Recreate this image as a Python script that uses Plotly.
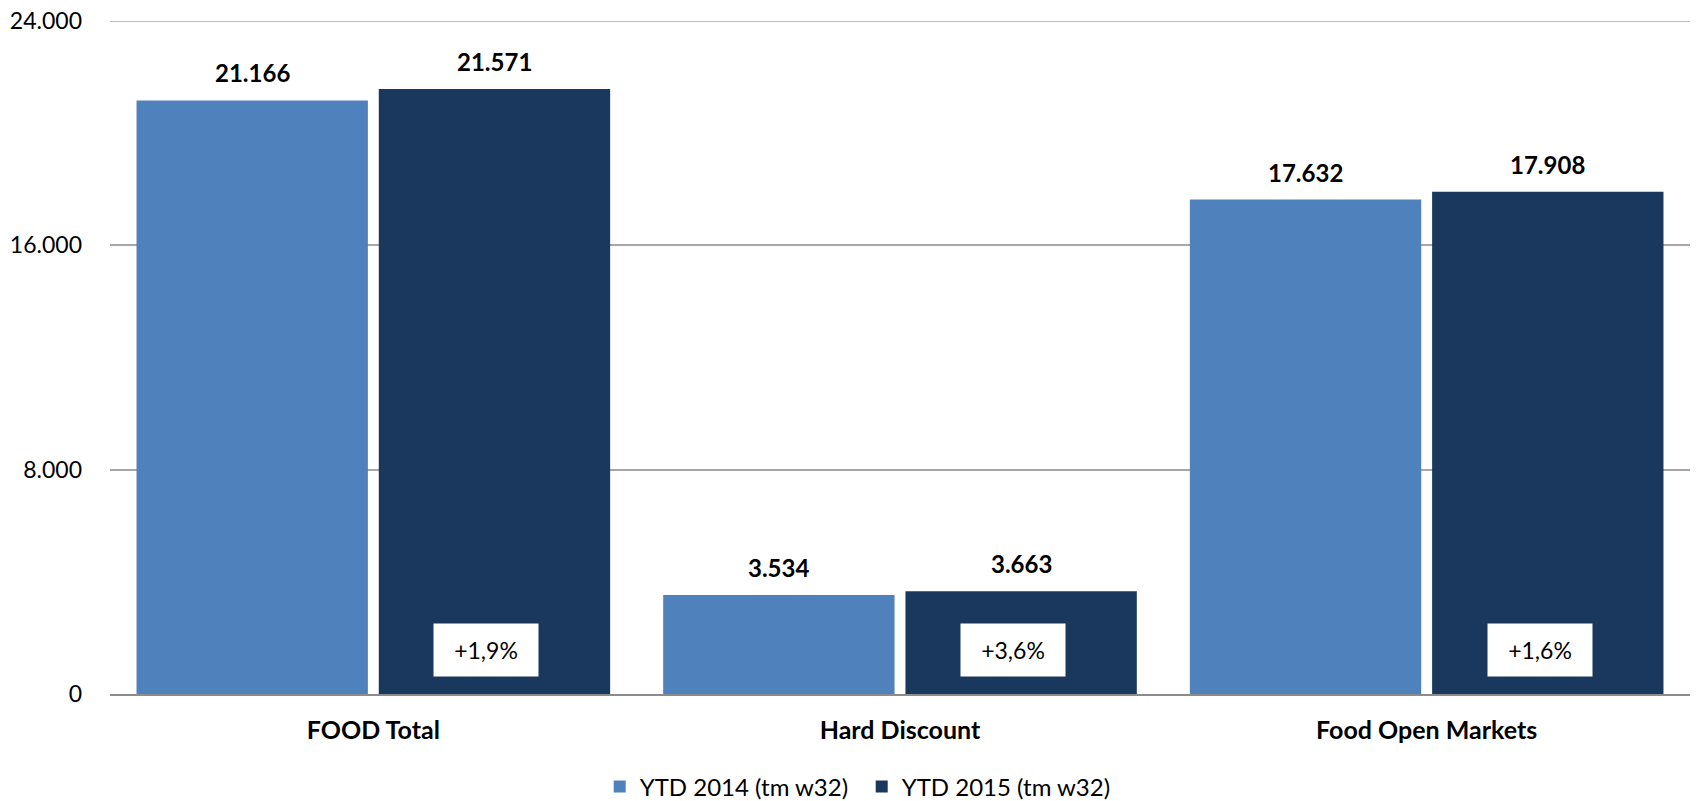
import plotly.graph_objects as go

categories = ["FOOD Total", "Hard Discount", "Food Open Markets"]
ytd_2014 = [21166, 3534, 17632]
ytd_2015 = [21571, 3663, 17908]
series_names = ["YTD 2014 (tm w32)", "YTD 2015 (tm w32)"]
growth_labels = ["+1,9%", "+3,6%", "+1,6%"]
y_ticks = [0, 8000, 16000, 24000]
y_tick_labels = ["0", "8.000", "16.000", "24.000"]

colors = ["#4F81BD", "#1A375E"]
FONT = "Lato, 'Open Sans', sans-serif"
bargap = 0.08
bargroupgap = 0.045
slot = (1 - bargap) / 2

def fmt(v):
    return f"{v:,}".replace(",", ".")

xs = list(range(len(categories)))
fig = go.Figure()
for name, vals, col in zip(series_names, [ytd_2014, ytd_2015], colors):
    fig.add_trace(go.Bar(x=xs, y=vals, name=name, marker=dict(color=col, line=dict(width=0))))

annotations = []
for i, (a, b) in enumerate(zip(ytd_2014, ytd_2015)):
    for off, v in [(-slot / 2, a), (slot / 2, b)]:
        annotations.append(dict(x=i + off, y=v, xref="x", yref="y", text=fmt(v),
                                showarrow=False, yanchor="bottom", yshift=11,
                                font=dict(family=FONT, size=24, color="black", weight="bold")))
    annotations.append(dict(x=i + slot / 2, y=0, xref="x", yref="y", text=growth_labels[i],
                            showarrow=False, yanchor="middle", yshift=44, xshift=-8,
                            bgcolor="white", width=100, height=48, borderpad=2,
                            font=dict(family=FONT, size=23, color="black")))

fig.add_shape(type="line", xref="paper", yref="y", x0=0, x1=1, y0=24000, y1=24000,
              line=dict(color="#A6A6A6", width=1.5), layer="below")

fig.update_layout(
    width=1696, height=801,
    margin=dict(l=110, r=6, t=21, b=107, autoexpand=False),
    plot_bgcolor="white", paper_bgcolor="white",
    barmode="group", bargap=bargap, bargroupgap=bargroupgap,
    annotations=annotations,
    showlegend=True,
    legend=dict(orientation="h", xref="container", x=0.3536, xanchor="left",
                yref="container", y=1 - 787 / 801, yanchor="middle",
                font=dict(family=FONT, size=24, color="black"), itemwidth=30,
                entrywidth=217, traceorder="normal"),
    xaxis=dict(tickvals=xs, ticktext=[f"<b>{c}</b>" for c in categories],
               range=[-0.5, len(categories) - 0.5], showgrid=False, automargin=False,
               showline=True, linecolor="#8C8C8C", linewidth=2, ticks="",
               ticklabelstandoff=13,
               tickfont=dict(family=FONT, size=25, color="black")),
    yaxis=dict(range=[0, 24000], tickvals=y_ticks, ticktext=y_tick_labels, automargin=False,
               showgrid=True, gridcolor="#A6A6A6", gridwidth=1.5,
               zeroline=False, showline=False, ticks="", ticklabelstandoff=27,
               tickfont=dict(family=FONT, size=23, color="black")),
)

fig.write_html("out.html", config={"displayModeBar": False},
               post_script="document.body.style.margin='0';document.body.style.overflow='hidden';")
